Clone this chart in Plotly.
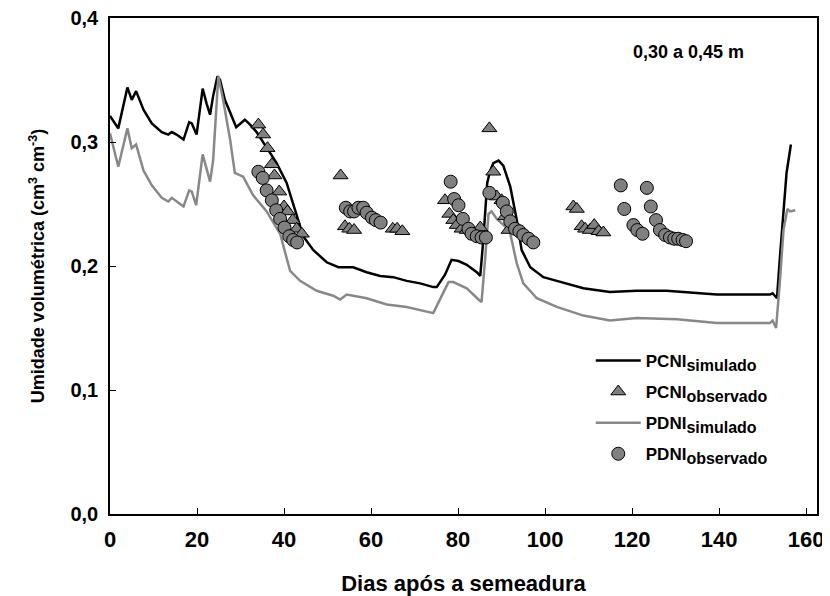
import plotly.graph_objects as go

# PCNI simulado (black line)
pcni_sim_x = [0, 1.9, 4.0, 5.0, 6.0, 7.7, 9.6, 11.9, 13.4, 14.2, 15.3, 16.9, 18.2, 18.8, 19.9, 21.3, 22.2, 23.0,
              23.7, 24.7, 25.3, 26.4, 27.6, 29.0, 31.0, 32.2, 33.7, 36.0, 38.3, 40.6, 42.9, 44.4, 46.7, 49.8,
              52.5, 55.9, 59.0, 62.1, 65.1, 68.2, 71.3, 74.3, 75.1, 77.0, 78.5, 80.1, 82.0, 84.3, 85.1, 85.8,
              86.7, 87.4, 88.1, 89.3, 90.4, 92.0, 93.5, 94.6, 96.6, 99.6, 102.7, 108.8, 114.9, 121.1, 127.9,
              134.9, 139.5, 147.1, 151.7, 152.3, 153.3, 154.0, 154.8, 155.5, 156.5]
pcni_sim_y = [.321, .311, .344, .334, .341, .326, .315, .308, .306, .308, .306, .302, .316, .315, .306, .343, .331, .322,
              .337, .353, .350, .334, .324, .312, .318, .314, .308, .296, .283, .267, .242, .224, .213, .203,
              .199, .199, .195, .192, .191, .188, .186, .183, .183, .193, .205, .204, .201, .195, .192, .221,
              .267, .277, .283, .285, .281, .264, .237, .213, .199, .191, .188, .182, .179, .180, .180,
              .178, .177, .177, .177, .178, .174, .208, .245, .275, .298]

# PDNI simulado (gray line)
pdni_sim_x = [0, 1.9, 4.0, 5.0, 6.0, 7.7, 9.6, 11.9, 13.4, 14.2, 16.9, 18.2, 18.8, 19.8, 21.3, 23.0, 23.7, 24.9,
              26.0, 27.6, 28.7, 30.6, 32.9, 36.0, 39.1, 41.4, 43.7, 47.5, 51.3, 52.9, 54.4, 59.0, 63.6, 68.2,
              74.3, 77.8, 78.9, 82.0, 84.7, 85.4, 86.2, 87.0, 87.7, 88.9, 90.8, 92.0, 93.5, 95.0, 98.1, 102.7,
              108.8, 114.9, 121.1, 130.3, 139.5, 147.1, 151.7, 152.3, 153.1, 154.0, 154.8, 155.7, 156.3, 157.5]
pdni_sim_y = [.307, .280, .311, .295, .298, .277, .265, .255, .252, .255, .248, .261, .260, .249, .290, .268, .285, .353,
              .334, .302, .275, .272, .257, .244, .226, .196, .188, .180, .176, .173, .177, .174, .169, .167,
              .162, .187, .187, .182, .173, .171, .205, .242, .244, .238, .232, .226, .202, .186, .174, .167,
              .160, .156, .158, .157, .154, .154, .154, .156, .150, .189, .229, .246, .244, .245]

# PCNI observado (triangles)
pcni_obs_x = [34.1, 35.2, 36.2, 37.2, 37.8, 38.9, 40.0, 40.8, 42.0, 42.9, 44.1, 53.0, 54.0, 55.0, 56.1, 65.0, 66.0,
              67.2, 77.0, 78.0, 78.9, 79.7, 80.8, 82.0, 83.3, 85.1, 87.2, 88.1, 88.9, 90.0, 90.8, 91.6, 106.5,
              107.3, 108.4, 109.2, 110.3, 111.3, 112.3, 113.4]
pcni_obs_y = [.314, .306, .295, .282, .273, .260, .248, .244, .237, .230, .226, .273, .232, .230, .229, .230, .230,
              .228, .253, .242, .237, .233, .230, .229, .228, .231, .311, .276, .256, .253, .240, .229, .248,
              .246, .232, .230, .229, .233, .228, .227]

# PDNI observado (circles)
pdni_obs_x = [34.1, 35.1, 36.0, 37.2, 38.2, 39.1, 40.1, 41.2, 42.1, 43.0, 54.2, 55.2, 56.1, 57.1, 58.2, 59.0, 60.2,
              61.1, 62.2, 78.3, 79.1, 80.1, 81.1, 82.4, 83.1, 84.3, 85.4, 86.4, 87.2, 90.3, 91.2, 92.0, 93.1,
              94.1, 95.0, 96.2, 97.3, 117.4, 118.2, 120.3, 121.2, 122.4, 123.4, 124.3, 125.5, 126.4, 127.6,
              128.7, 129.7, 130.6, 131.6, 132.4]
pdni_obs_y = [.276, .271, .261, .253, .245, .238, .231, .224, .221, .219, .247, .244, .244, .247, .247, .243, .239,
              .237, .235, .268, .254, .249, .238, .230, .226, .224, .223, .223, .259, .251, .244, .236, .230,
              .228, .225, .222, .219, .265, .246, .233, .229, .226, .263, .248, .237, .229, .225,
              .223, .222, .222, .221, .220]

x_ticks = [0, 20, 40, 60, 80, 100, 120, 140, 160]
y_ticks = [0.0, 0.1, 0.2, 0.3, 0.4]

FONT = "Liberation Sans, Arial, sans-serif"


def leg(main, sub):
    return f'{main}<sub><span style="font-size:16px">{sub}</span></sub>'


fig = go.Figure()
fig.add_trace(go.Scatter(x=pcni_sim_x, y=pcni_sim_y, mode="lines", name=leg("PCNI", "simulado"),
                         line=dict(color="black", width=2.5), legendrank=1, legendgroup="a"))
fig.add_trace(go.Scatter(x=pdni_sim_x, y=pdni_sim_y, mode="lines", name=leg("PDNI", "simulado"),
                         line=dict(color="#888888", width=2.5), legendrank=3, legendgroup="c"))
fig.add_trace(go.Scatter(x=pcni_obs_x, y=pcni_obs_y, mode="markers", name=leg("PCNI", "observado"),
                         marker=dict(symbol="triangle-up", size=13, color="#808080",
                                     line=dict(color="black", width=1)), legendrank=2, legendgroup="b"))
fig.add_trace(go.Scatter(x=pdni_obs_x, y=pdni_obs_y, mode="markers", name=leg("PDNI", "observado"),
                         marker=dict(symbol="circle", size=13, color="#808080",
                                     line=dict(color="black", width=1)), legendrank=4, legendgroup="d"))

fig.add_annotation(x=(688 - 110) / 707, y=(514 - 52) / 496, xref="paper", yref="paper",
                   text="0,30 a 0,45 m", showarrow=False, xanchor="center", yanchor="middle",
                   font=dict(size=18, color="black", family=FONT, weight="bold"))

fig.update_layout(
    template="none",
    width=822, height=588,
    margin=dict(l=102, r=13, t=10, b=82),
    paper_bgcolor="white", plot_bgcolor="white",
    separators=",.",
    font=dict(family=FONT, color="black", size=16, weight="bold"),
    showlegend=True,
    legend=dict(x=0.68, y=0.345, xanchor="left", yanchor="top", bgcolor="rgba(0,0,0,0)",
                font=dict(size=17, family=FONT, weight="bold", color="black"),
                tracegroupgap=6, itemwidth=45),
    xaxis=dict(range=[0, 162.5], tickvals=x_ticks, ticks="inside", ticklen=6, tickcolor="black",
               showline=True, linecolor="black", linewidth=1.5, mirror=True, showgrid=False, zeroline=False,
               automargin=False, ticklabelstandoff=5, ticklabeloverflow="allow",
               tickfont=dict(size=22, weight="bold"),
               title=dict(text="Dias após a semeadura", standoff=25,
                          font=dict(size=22, weight="bold"))),
    yaxis=dict(range=[0, 0.4], tickvals=y_ticks, tickformat=".1f", ticks="inside", ticklen=6,
               tickcolor="black", showline=True, linecolor="black", linewidth=1.5, mirror=True,
               showgrid=False, zeroline=False, automargin=False, ticklabelstandoff=6,
               ticklabeloverflow="allow", tickfont=dict(size=20, weight="bold"),
               title=dict(text="Umidade volumétrica (cm<sup>3</sup> cm<sup>-3</sup>)", standoff=21,
                          font=dict(size=18, weight="bold"))),
)

fig.write_html("out.html")
